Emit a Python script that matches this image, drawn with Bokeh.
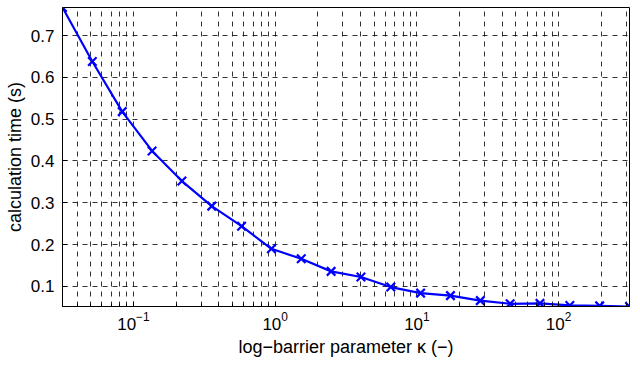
from bokeh.plotting import figure
from bokeh.models import FixedTicker, LogTickFormatter, Range1d
from bokeh.embed import file_html
from bokeh.resources import INLINE

# log-barrier parameter kappa (-)
kappa = [0.0316, 0.0513, 0.0834, 0.1354, 0.2199, 0.3570, 0.5796, 0.9412,
         1.528, 2.482, 4.030, 6.543, 10.62, 17.25, 28.01, 45.48, 73.85,
         119.9, 194.8, 316.2]
# calculation time (s)
calc_time = [0.767, 0.638, 0.518, 0.424, 0.352, 0.292, 0.244, 0.190,
             0.166, 0.136, 0.1225, 0.0985, 0.084, 0.078, 0.066, 0.0585,
             0.0595, 0.0545, 0.0535, 0.052]

x_major_ticks = [0.01, 0.1, 1, 10, 100, 1000]
x_minor_ticks = [m * d for d in [0.01, 0.1, 1, 10, 100] for m in range(2, 10)]
y_ticks = [0.1, 0.2, 0.3, 0.4, 0.5, 0.6, 0.7]
x_label = "log\u2212barrier parameter \u03ba (\u2212)"
y_label = "calculation time (s)"

FONT = "Liberation Sans"

p = figure(width=632, height=359, x_axis_type="log",
           x_range=Range1d(kappa[0], kappa[-1]),
           y_range=Range1d(calc_time[-1], calc_time[0]),
           output_backend="svg", toolbar_location=None,
           min_border_left=62, min_border_right=3, min_border_top=7,
           min_border_bottom=52)

p.background_fill_color = "white"
p.border_fill_color = "white"
p.outline_line_color = "black"
p.outline_line_width = 1
p.outline_line_alpha = 1

p.line(kappa, calc_time, line_color="#0000ff", line_width=2.2)
p.scatter(kappa, calc_time, marker="x", size=12, line_color="#0000ff",
          line_width=2.2)

# axes
p.xaxis.ticker = FixedTicker(ticks=x_major_ticks, minor_ticks=x_minor_ticks)
p.xaxis.formatter = LogTickFormatter()
p.yaxis.ticker = FixedTicker(ticks=y_ticks)

for ax in (p.xaxis[0], p.yaxis[0]):
    ax.axis_line_color = "black"
    ax.axis_line_width = 1
    ax.major_tick_line_color = "black"
    ax.minor_tick_line_color = "black"
    ax.major_tick_in = 5
    ax.major_tick_out = 0
    ax.minor_tick_in = 3
    ax.minor_tick_out = 0
    ax.major_label_text_font = FONT
    ax.major_label_text_font_size = "17px"
    ax.major_label_text_color = "black"
    ax.axis_label_text_font = FONT
    ax.axis_label_text_font_size = "18px"
    ax.axis_label_text_font_style = "normal"
    ax.axis_label_text_color = "black"

p.xaxis.axis_label = x_label
p.yaxis.axis_label = y_label
p.xaxis.major_label_standoff = 5
p.xaxis.axis_label_standoff = 4
p.yaxis.major_label_standoff = 8
p.yaxis.axis_label_standoff = 3

# grid
p.xgrid.grid_line_color = "black"
p.xgrid.grid_line_alpha = 0.8
p.xgrid.grid_line_dash = "5 5"
p.xgrid.minor_grid_line_color = "black"
p.xgrid.minor_grid_line_alpha = 0.8
p.xgrid.minor_grid_line_dash = "5 5"
p.ygrid.grid_line_color = "black"
p.ygrid.grid_line_alpha = 0.8
p.ygrid.grid_line_dash = "5 5"

open("out.html", "w").write(file_html(p, INLINE))
